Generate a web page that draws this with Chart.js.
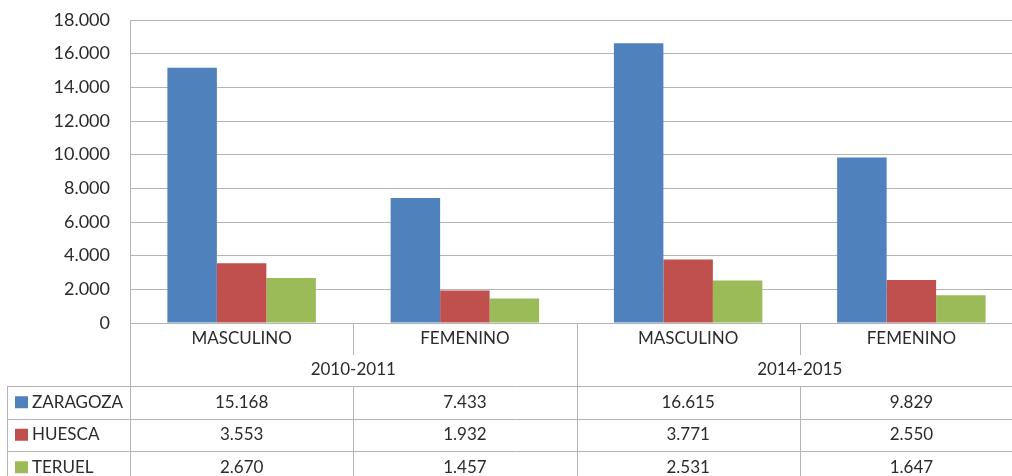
<!DOCTYPE html>
<html lang="es">
<head>
    <meta charset="UTF-8">
    <title>Alumnos por provincia</title>
    <script src="https://cdn.jsdelivr.net/npm/chart.js@4.4.1/dist/chart.umd.min.js"></script>
    <style>
        html, body { margin: 0; padding: 0; background: #fff; overflow: hidden; }
        #chart { display: block; }
    </style>
</head>
<body>
    <canvas id="chart" width="1024" height="476"></canvas>

    <script>
        // categorias y series
        const categories = ["MASCULINO", "FEMENINO", "MASCULINO", "FEMENINO"];
        const groups = ["2010-2011", "2014-2015"];
        const zaragoza = [15168, 7433, 16615, 9829];
        const huesca = [3553, 1932, 3771, 2550];
        const teruel = [2670, 1457, 2531, 1647];
        const seriesNames = ["ZARAGOZA", "HUESCA", "TERUEL"];
        const colors = ["#4F81BD", "#C0504D", "#9BBB59"];

        const FONT = "Lato, 'Open Sans', sans-serif";
        const TEXT = "#2b2b2b";
        const LINE = "#b4b4b4";

        function fmt(v) {
            return String(v).replace(/\B(?=(\d{3})+(?!\d))/g, ".");
        }

        // tabla de datos debajo del grafico
        const dataTable = {
            id: "dataTable",
            afterDraw(chart) {
                const ctx = chart.ctx;
                const x = chart.scales.x;
                const area = chart.chartArea;
                const n = categories.length;
                const w = (area.right - area.left) / n;
                const bottom = chart.height;
                const rowTop = 386, rowH = 32.5;

                ctx.save();
                ctx.strokeStyle = LINE;
                ctx.lineWidth = 1;

                // linea vertical del eje hacia abajo
                ctx.beginPath();
                ctx.moveTo(area.left + 0.5, area.bottom);
                ctx.lineTo(area.left + 0.5, bottom);
                ctx.stroke();

                for (let i = 1; i < n; i++) {
                    const bx = Math.round(area.left + i * w) + 0.5;
                    ctx.beginPath();
                    if (i % 2 === 0) {
                        ctx.moveTo(bx, area.bottom);
                        ctx.lineTo(bx, bottom);
                    } else {
                        ctx.moveTo(bx, area.bottom);
                        ctx.lineTo(bx, 355);
                        ctx.moveTo(bx, rowTop);
                        ctx.lineTo(bx, bottom);
                    }
                    ctx.stroke();
                }

                // lineas horizontales de la tabla
                for (let r = 0; r < 3; r++) {
                    const y = Math.round(rowTop + r * rowH) + 0.5;
                    ctx.beginPath();
                    ctx.moveTo(7, y);
                    ctx.lineTo(chart.width, y);
                    ctx.stroke();
                }
                ctx.beginPath();
                ctx.moveTo(7.5, rowTop);
                ctx.lineTo(7.5, bottom);
                ctx.stroke();

                ctx.fillStyle = TEXT;
                ctx.textAlign = "center";
                ctx.textBaseline = "middle";
                ctx.font = "17px " + FONT;
                categories.forEach((c, i) => {
                    ctx.fillText(c, x.getPixelForValue(i), 339);
                });
                groups.forEach((g, i) => {
                    const cx = area.left + (2 * i + 1) * w;
                    ctx.fillText(g, cx, 370);
                });

                const series = [zaragoza, huesca, teruel];
                ctx.font = "17px " + FONT;
                series.forEach((s, r) => {
                    const cy = rowTop + r * rowH + rowH / 2;
                    s.forEach((v, i) => {
                        ctx.fillStyle = TEXT;
                        ctx.textAlign = "center";
                        ctx.fillText(fmt(v), x.getPixelForValue(i), cy);
                    });
                    ctx.fillStyle = colors[r];
                    ctx.fillRect(15, cy - 6, 13, 12);
                    ctx.fillStyle = TEXT;
                    ctx.textAlign = "left";
                    ctx.fillText(seriesNames[r], 32, cy);
                });
                ctx.restore();
            }
        };

        new Chart("chart", {
            type: "bar",
            data: {
                labels: categories,
                datasets: [
                    { label: seriesNames[0], data: zaragoza, backgroundColor: colors[0] },
                    { label: seriesNames[1], data: huesca, backgroundColor: colors[1] },
                    { label: seriesNames[2], data: teruel, backgroundColor: colors[2] }
                ]
            },
            options: {
                responsive: false,
                animation: false,
                devicePixelRatio: 1,
                layout: { padding: { top: 0, bottom: 153, left: 0, right: 1 } },
                datasets: { bar: { barPercentage: 1, categoryPercentage: 0.665 } },
                plugins: { legend: { display: false }, tooltip: { enabled: false } },
                scales: {
                    x: { display: false },
                    y: {
                        min: 0,
                        max: 18000,
                        ticks: {
                            stepSize: 2000,
                            padding: 20,
                            color: TEXT,
                            font: { family: FONT, size: 18 },
                            callback: v => fmt(v)
                        },
                        grid: { color: LINE, drawTicks: false },
                        border: { color: LINE },
                        afterFit(scale) {
                            scale.width = 130;
                            scale.paddingTop = 20;
                        }
                    }
                }
            },
            plugins: [dataTable]
        });
    </script>
</body>
</html>
